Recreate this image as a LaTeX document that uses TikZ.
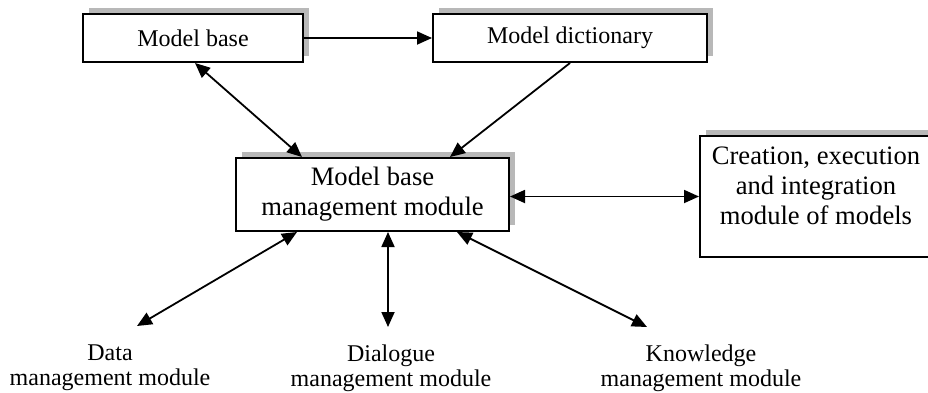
\documentclass[tikz,border=0pt]{standalone}
\usepackage{fontspec}
\setmainfont{Liberation Serif}
\usetikzlibrary{arrows.meta,shadows}
\begin{document}
\begin{tikzpicture}[x=0.5pt,y=-0.5pt,
  box/.style={draw, line width=1pt, fill=white, inner sep=0pt, align=center,
    drop shadow={shadow xshift=3pt, shadow yshift=3pt, fill=black!28, opacity=1}},
  lbl/.style={inner sep=0pt, anchor=north, align=center, font=\fontsize{12}{12.5}\selectfont},
  one/.style={line width=0.9pt, -{Triangle[length=7.5pt,width=6.5pt]}},
  two/.style={line width=0.9pt, {Triangle[length=7.5pt,width=6.5pt]}-{Triangle[length=7.5pt,width=6.5pt]}}]
\useasboundingbox (0,0) rectangle (928,392);
\node[box, minimum width=110pt, minimum height=24pt, font=\fontsize{12}{14}\selectfont] (mb) at (193,38){Model base};
\node[box, minimum width=137pt, minimum height=24pt, font=\fontsize{12}{14}\selectfont] (md) at (570,38){Model dictionary};
\node[box, minimum width=136.5pt, minimum height=36.5pt, font=\fontsize{13.3}{15}\selectfont] (mbm) at (372.5,194.5){Model base\\management module};
\node[box, minimum width=116pt, minimum height=60.5pt, font=\fontsize{13.3}{15}\selectfont] (cre) at (816,196.5){\begin{tabular}{@{}c@{}}Creation, execution\\and integration\\module of models\\[8pt]\end{tabular}};
\node[lbl] (dat) at (110,344){Data\\management module};
\node[lbl] (dlg) at (391,344){Dialogue\\management module};
\node[lbl] (knw) at (701,344){Knowledge\\management module};
\draw[one](mb.east) -- (md.west);
\draw[two]([xshift=1pt]mb.south) -- ([xshift=-35.25pt]mbm.north);
\draw[one](md.south) -- ([xshift=38.75pt]mbm.north);
\draw[two]([yshift=-1pt]mbm.east) -- ([yshift=-1pt]mbm.east -| cre.west);
\draw[two]([xshift=-37.75pt]mbm.south) -- ([xshift=13.5pt,yshift=9pt]dat.north);
\draw[two]([xshift=7.75pt]mbm.south) -- ([xshift=-1.5pt,yshift=8.5pt]dlg.north);
\draw[two]([xshift=42.25pt]mbm.south) -- ([xshift=-27pt,yshift=8.5pt]knw.north);
\end{tikzpicture}
\end{document}
